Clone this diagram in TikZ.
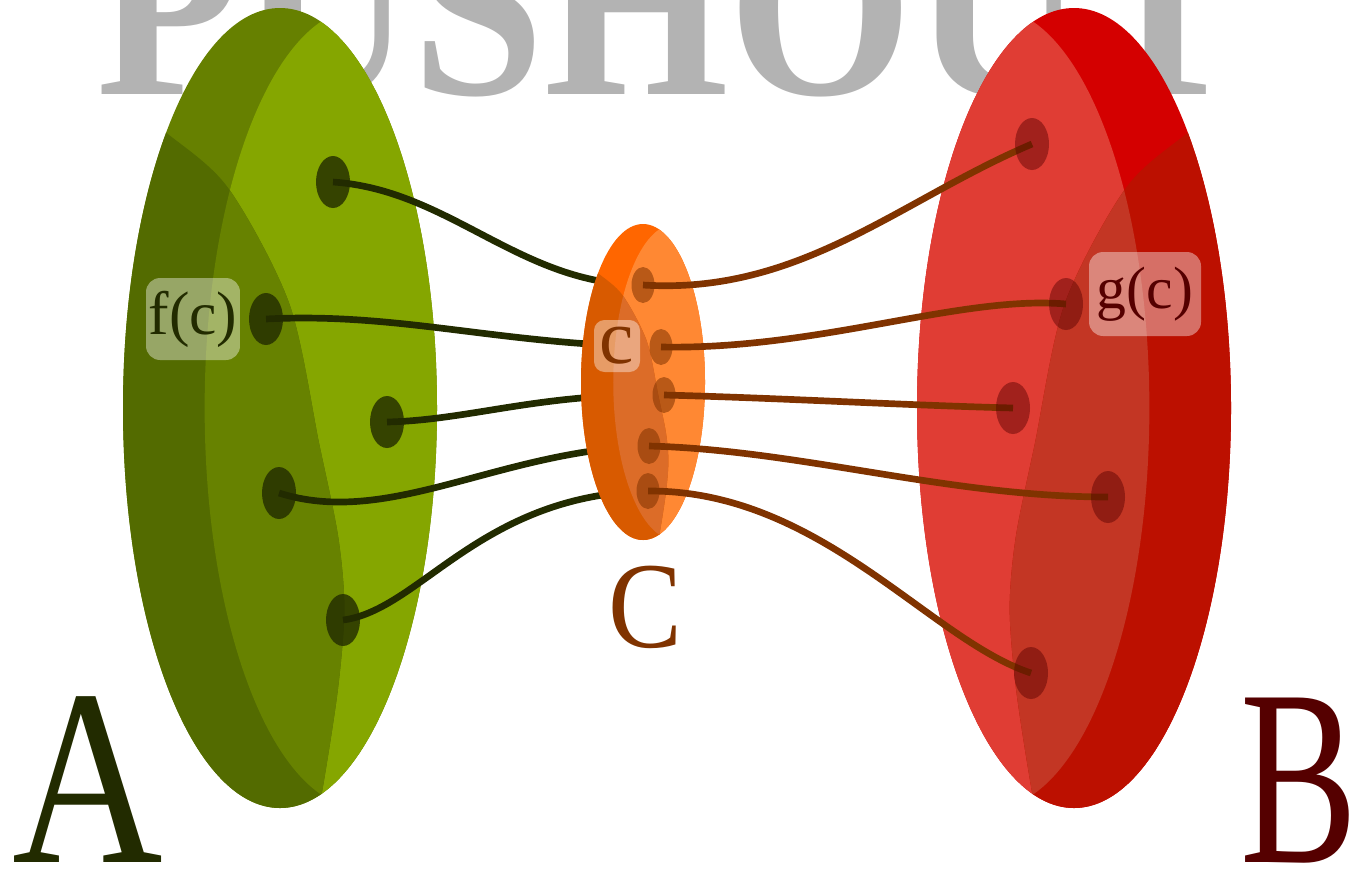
\documentclass[tikz,border=0pt]{standalone}
\usepackage{fontspec}
\setmainfont{Liberation Serif}
\usepackage{xcolor}
\usepackage{tikz}
\usetikzlibrary{shapes.geometric,positioning}

\definecolor{grnbase}{HTML}{668000}
\definecolor{grnlight}{HTML}{85A600}
\definecolor{grndark}{HTML}{536B00}
\definecolor{grnlens}{HTML}{678200}
\definecolor{grnink}{HTML}{222B00}
\definecolor{orgbase}{HTML}{FF6600}
\definecolor{orglight}{HTML}{FF8833}
\definecolor{orgdark}{HTML}{D85A00}
\definecolor{orglens}{HTML}{DC6C28}
\definecolor{brnink}{HTML}{803300}
\definecolor{redbase}{HTML}{D40000}
\definecolor{redlight}{HTML}{E03D34}
\definecolor{reddark}{HTML}{BC1000}
\definecolor{redlens}{HTML}{C33624}
\definecolor{redink}{HTML}{550000}
\definecolor{titlegray}{HTML}{B3B3B3}

% set as a disc: #1 centre, #2 x radius (negative = mirrored), #3 y radius, #4-#7 colours
\newcommand{\shadeddisc}[7]{%
  \begin{scope}[shift={#1}, xscale=#2, yscale=#3]
    \fill[#4] (0,0) circle[radius=1];
    \begin{scope}
      \clip (0,0) circle[radius=1];
      \fill[#5] (0.52,0) circle[radius=1];
      \fill[#6] plot[smooth] coordinates {(-1.1,-0.8) (-0.73,-0.69) (-0.33,-0.55) (0.06,-0.26)
          (0.25,0.09) (0.37,0.32) (0.41,0.5) (0.37,0.7) (0.27,0.955) (0.15,1.2)}
          -- (-1.6,1.6) -- (-1.6,-1.2) -- cycle;
      \clip (0.52,0) circle[radius=1];
      \fill[#7] plot[smooth] coordinates {(-1.1,-0.8) (-0.73,-0.69) (-0.33,-0.55) (0.06,-0.26)
          (0.25,0.09) (0.37,0.32) (0.41,0.5) (0.37,0.7) (0.27,0.955) (0.15,1.2)}
          -- (-1.6,1.6) -- (-1.6,-1.2) -- cycle;
    \end{scope}
  \end{scope}}

\begin{document}
\begin{tikzpicture}[x=0.02cm, y=-0.02cm,
    mapf/.style={draw=grnink, line width=3.8pt},
    mapg/.style={draw=brnink, line width=3.8pt},
    dotA/.style={ellipse, inner sep=0pt, minimum width=0.68cm, minimum height=1.04cm,
                 fill=grnink, fill opacity=0.8},
    dotC/.style={ellipse, inner sep=0pt, minimum width=0.46cm, minimum height=0.72cm,
                 fill=brnink, fill opacity=0.55},
    dotB/.style={ellipse, inner sep=0pt, minimum width=0.68cm, minimum height=1.04cm,
                 fill=redink, fill opacity=0.45},
    tag/.style={fill=white, fill opacity=0.4, text opacity=1, inner sep=0pt, rounded corners=8pt},
    letter/.style={anchor=base, inner sep=0pt}
]
\useasboundingbox (0,0) rectangle (1361,870);
\clip (0,0) rectangle (1361,870);

\node[anchor=base west, inner sep=0pt, text=titlegray,
      font=\fontsize{150}{155}\selectfont\bfseries] (title) at (96,94) {\scalebox{0.9}[1]{PUSHOUT}};

\shadeddisc{(280,408)}{157}{400}{grnbase}{grnlight}{grndark}{grnlens}
\shadeddisc{(1074,408)}{-157}{400}{redbase}{redlight}{reddark}{redlens}

% element positions
\coordinate (a1) at (333,182);  \coordinate (c1) at (643,285);  \coordinate (b1) at (1032,144);
\coordinate (a2) at (266,319);  \coordinate (c2) at (661,347);  \coordinate (b2) at (1066,304);
\coordinate (a3) at (387,422);  \coordinate (c3) at (664,395);  \coordinate (b3) at (1013,408);
\coordinate (a4) at (279,493);  \coordinate (c4) at (649,446);  \coordinate (b4) at (1108,497);
\coordinate (a5) at (343,620);  \coordinate (c5) at (648,491);  \coordinate (b5) at (1031,673);

\draw[mapf] (a1) .. controls +(117,8)  and +(-123,0)  .. (c1);
\draw[mapf] (a2) .. controls +(134,-7) and +(-161,-2) .. (c2);
\draw[mapf] (a3) .. controls +(83,-2)  and +(-124,-2) .. (c3);
\draw[mapf] (a4) .. controls +(110,35) and +(-150,4)  .. (c4);
\draw[mapf] (a5) .. controls +(77,-10) and +(-168,4)  .. (c5);

\shadeddisc{(643,382)}{62}{158}{orgbase}{orglight}{orgdark}{orglens}

\draw[mapg] (c1) .. controls +(157,10) and +(-132,56)  .. (b1);
\draw[mapg] (c2) .. controls +(159,3)  and +(-106,-9)  .. (b2);
\draw[mapg] (c3) .. controls +(116,3)  and +(-113,-3)  .. (b3);
\draw[mapg] (c4) .. controls +(151,4)  and +(-158,0)   .. (b4);
\draw[mapg] (c5) .. controls +(172,-1) and +(-101,-33) .. (b5);

\foreach \i in {1,...,5} {
  \node[dotA] (da\i) at (a\i) {};
  \node[dotC] (dc\i) at (c\i) {};
  \node[dotB] (db\i) at (b\i) {};
}

\node[tag, minimum width=1.88cm, minimum height=1.64cm, text=grnink,
      font=\fontsize{35}{35}\selectfont] (fc) at (193,319) {f(c)};
\node[tag, minimum width=0.92cm, minimum height=1.04cm, rounded corners=6pt, text=brnink,
      font=\fontsize{44}{44}\selectfont] (cc) at (617,346) {c};
\node[tag, minimum width=2.24cm, minimum height=1.68cm, text=redink,
      font=\fontsize{34}{34}\selectfont] (gc) at (1145,294) {g(c)};

\node[letter, text=brnink, font=\fontsize{70}{70}\selectfont] (labC) at (645,647) {\scalebox{0.9}[1]{C}};
\node[letter, text=grnink, font=\fontsize{143}{145}\selectfont] (labA) at (88,862) {\scalebox{0.83}[1]{A}};
\node[letter, text=redink, font=\fontsize{143}{145}\selectfont] (labB) at (1299,862) {\scalebox{0.7}[1]{B}};
\end{tikzpicture}
\end{document}
